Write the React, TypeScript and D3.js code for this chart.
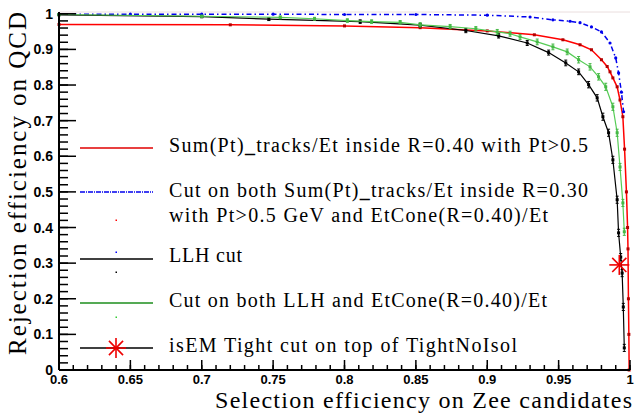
import React from 'react';
import * as d3 from 'd3';

// Sum(Pt)_tracks/Et inside R=0.40
const redX = [0.6, 0.72, 0.8, 0.853, 0.9, 0.933, 0.953, 0.965, 0.973, 0.98, 0.984, 0.986, 0.988, 0.991, 0.993, 0.995, 0.9962, 0.9975, 0.9983, 0.9986, 0.9989, 0.9992, 0.9994];
const redY = [0.97, 0.969, 0.966, 0.961, 0.952, 0.941, 0.927, 0.913, 0.899, 0.871, 0.852, 0.837, 0.82, 0.795, 0.758, 0.711, 0.62, 0.5, 0.4, 0.34, 0.2, 0.1, 0.0];

// Sum(Pt) R=0.30 + EtCone
const blueX = [0.6, 0.65, 0.7, 0.75, 0.8, 0.85, 0.9, 0.93, 0.946, 0.958, 0.965, 0.973, 0.98, 0.986, 0.99, 0.992, 0.994, 0.9955];
const blueY = [0.999, 0.999, 0.999, 0.999, 0.998, 0.998, 0.996, 0.991, 0.983, 0.979, 0.975, 0.963, 0.949, 0.918, 0.876, 0.834, 0.78, 0.725];

// LLH + EtCone
const greenX = [0.6, 0.7, 0.755, 0.779, 0.802, 0.819, 0.839, 0.853, 0.874, 0.892, 0.907, 0.916, 0.923, 0.935, 0.946, 0.956, 0.964, 0.972, 0.978, 0.983, 0.988, 0.991, 0.993, 0.995, 0.996];
const greenY = [0.998, 0.993, 0.99, 0.986, 0.981, 0.978, 0.976, 0.969, 0.964, 0.958, 0.949, 0.944, 0.935, 0.921, 0.907, 0.893, 0.871, 0.851, 0.823, 0.795, 0.739, 0.666, 0.57, 0.469, 0.388];
const greenErr = [0.002, 0.003, 0.004, 0.004, 0.005, 0.005, 0.005, 0.006, 0.006, 0.006, 0.007, 0.007, 0.007, 0.008, 0.008, 0.008, 0.009, 0.009, 0.009, 0.01, 0.01, 0.01, 0.01, 0.01, 0.01];

// LLH cut
const blackX = [0.6, 0.7, 0.747, 0.811, 0.853, 0.885, 0.908, 0.928, 0.943, 0.955, 0.964, 0.971, 0.977, 0.981, 0.985, 0.988, 0.991, 0.992, 0.9935, 0.9945, 0.9953, 0.996];
const blackY = [0.997, 0.992, 0.985, 0.978, 0.968, 0.953, 0.938, 0.918, 0.891, 0.862, 0.837, 0.801, 0.764, 0.711, 0.666, 0.59, 0.478, 0.385, 0.317, 0.272, 0.177, 0.062];
const blackErr = [0.002, 0.003, 0.004, 0.005, 0.005, 0.006, 0.006, 0.007, 0.007, 0.008, 0.008, 0.009, 0.009, 0.01, 0.01, 0.01, 0.01, 0.01, 0.01, 0.01, 0.01, 0.01];

// isEM Tight on top of TightNoIsol
const isemX = [0.9925];
const isemY = [0.295];

const xTicks = [0.6, 0.65, 0.7, 0.75, 0.8, 0.85, 0.9, 0.95, 1];
const xTickLabels = ['0.6', '0.65', '0.7', '0.75', '0.8', '0.85', '0.9', '0.95', '1'];
const yTicks = [0, 0.1, 0.2, 0.3, 0.4, 0.5, 0.6, 0.7, 0.8, 0.9, 1];
const yTickLabels = ['0', '0.1', '0.2', '0.3', '0.4', '0.5', '0.6', '0.7', '0.8', '0.9', '1'];

const serif = "'Liberation Serif', 'DejaVu Serif', serif";
const sans = "'Liberation Sans', Arial, sans-serif";

function App() {
    const x = d3.scaleLinear().domain([0.6, 1]).range([59, 630]);
    const y = d3.scaleLinear().domain([0, 1.005]).range([370, 12]);

    const line = d3.line<[number, number]>()
        .x(d => x(d[0]))
        .y(d => y(d[1]));

    const zip = (a: number[], b: number[]) => a.map((v, i) => [v, b[i]] as [number, number]);

    const xMinor = d3.range(0.6, 1.0001, 0.01);
    const yMinor = d3.range(0, 1.0001, 0.02);

    const star = (cx: number, cy: number, r: number, color: string) => (
        <g stroke={color} strokeWidth={1.6}>
            {[0, 45, 90, 135].map(a => {
                const rad = a * Math.PI / 180;
                return <line key={a} x1={cx - r * Math.cos(rad)} y1={cy - r * Math.sin(rad)} x2={cx + r * Math.cos(rad)} y2={cy + r * Math.sin(rad)} />;
            })}
        </g>
    );

    const errSeries = (xs: number[], ys: number[], es: number[], color: string, mark: string) => (
        <g>
            {xs.map((v, i) => (
                <g key={i} stroke={color} strokeWidth={1}>
                    <line x1={x(v)} x2={x(v)} y1={y(ys[i] + es[i])} y2={y(ys[i] - es[i])} />
                    <line x1={x(v) - 1.5} x2={x(v) + 1.5} y1={y(ys[i] + es[i])} y2={y(ys[i] + es[i])} />
                    <line x1={x(v) - 1.5} x2={x(v) + 1.5} y1={y(ys[i] - es[i])} y2={y(ys[i] - es[i])} />
                    <rect x={x(v) - 1.5} y={y(ys[i]) - 1.5} width={3} height={3} fill={mark} stroke="none" />
                </g>
            ))}
        </g>
    );

    const legendX1 = 80, legendX2 = 153, textX = 169;

    return (
        <div style={{ position: 'fixed', left: 0, top: 0 }}>
            <svg width={635} height={415} style={{ display: 'block', background: '#fff' }}>
                {/* frame top */}
                <line x1={59} x2={630} y1={12} y2={12} stroke="#eadede" strokeWidth={1} />

                {/* curves */}
                <path d={line(zip(redX, redY)) || ''} fill="none" stroke="#ff0000" strokeWidth={1.5} />
                {redX.map((v, i) => (
                    <rect key={'r' + i} x={x(v) - 1.5} y={y(redY[i]) - 1.5} width={3} height={3} fill="#b40000" />
                ))}

                <path d={line(zip(blueX, blueY)) || ''} fill="none" stroke="#0000ee" strokeWidth={1.5} strokeDasharray="5 3 1.5 3" />
                {blueX.map((v, i) => (
                    <circle key={'b' + i} cx={x(v)} cy={y(blueY[i])} r={1.6} fill="#0000ee" />
                ))}

                <path d={line(zip(blackX, blackY)) || ''} fill="none" stroke="#000" strokeWidth={1.2} />
                {errSeries(blackX, blackY, blackErr, '#000', '#000')}

                <path d={line(zip(greenX, greenY)) || ''} fill="none" stroke="#55cc55" strokeWidth={1.2} />
                {errSeries(greenX, greenY, greenErr, '#44b844', '#44b844')}

                {isemX.map((v, i) => <g key={'s' + i}>{star(x(v), y(isemY[i]), 10, '#ee0000')}</g>)}

                {/* y axis */}
                <line x1={59} x2={59} y1={12} y2={370} stroke="#000" strokeWidth={2} />
                {yMinor.map((t, i) => (
                    <line key={'ym' + i} x1={59} x2={68} y1={y(t)} y2={y(t)} stroke="#000" strokeWidth={1.5} />
                ))}
                {yTicks.map((t, i) => (
                    <g key={'yt' + i}>
                        <line x1={59} x2={76} y1={y(t)} y2={y(t)} stroke="#000" strokeWidth={1.5} />
                        <text x={53} y={y(t)} dy="0.36em" textAnchor="end" fontFamily={sans} fontWeight="bold" fontSize={14}>{yTickLabels[i]}</text>
                    </g>
                ))}

                {/* x axis */}
                <line x1={59} x2={630} y1={370} y2={370} stroke="#000" strokeWidth={2} />
                {xMinor.map((t, i) => (
                    <line key={'xm' + i} x1={x(t)} x2={x(t)} y1={370} y2={365} stroke="#000" strokeWidth={1.5} />
                ))}
                {xTicks.map((t, i) => (
                    <g key={'xt' + i}>
                        <line x1={x(t)} x2={x(t)} y1={370} y2={360} stroke="#000" strokeWidth={1.5} />
                        <text x={x(t)} y={383.5} textAnchor="middle" fontFamily={sans} fontWeight="bold" fontSize={13}>{xTickLabels[i]}</text>
                    </g>
                ))}

                {/* titles */}
                <text x={632} y={408} textAnchor="end" fontFamily={serif} fontSize={24} textLength={417}>Selection efficiency on Zee candidates</text>
                <text transform="translate(26,355) rotate(-90)" fontFamily={serif} fontSize={25} textLength={343}>Rejection efficiency on QCD</text>

                {/* legend */}
                <g fontFamily={serif} fontSize={20} fill="#000">
                    <line x1={legendX1} x2={legendX2} y1={148} y2={148} stroke="#e00000" strokeWidth={1.5} />
                    <text x={textX} y={152} textLength={419}>Sum(Pt)<tspan fontWeight="bold">_</tspan>tracks/Et inside R=0.40 with Pt&gt;0.5</text>

                    <line x1={legendX1} x2={legendX2} y1={192} y2={192} stroke="#0000ee" strokeWidth={1.5} strokeDasharray="5 1 1 1" />
                    <text x={textX} y={197} textLength={419}>Cut on both Sum(Pt)<tspan fontWeight="bold">_</tspan>tracks/Et inside R=0.30</text>
                    <text x={textX} y={222} textLength={379}>with Pt&gt;0.5 GeV and EtCone(R=0.40)/Et</text>
                    <rect x={115.5} y={219.5} width={1.5} height={1.5} fill="#ff0000" />

                    <line x1={legendX1} x2={legendX2} y1={259} y2={259} stroke="#000" strokeWidth={1.5} />
                    <text x={textX} y={262} textLength={73}>LLH cut</text>
                    <rect x={115.5} y={251.5} width={1.5} height={1.5} fill="#0000ff" />
                    <rect x={115.5} y={271.5} width={1.5} height={1.5} fill="#000" />

                    <line x1={legendX1} x2={legendX2} y1={303} y2={303} stroke="#55aa55" strokeWidth={2} />
                    <text x={textX} y={307} textLength={378}>Cut on both LLH and EtCone(R=0.40)/Et</text>
                    <rect x={115.5} y={316.5} width={1.5} height={1.5} fill="#33cc33" />

                    <line x1={legendX1} x2={legendX2} y1={348} y2={348} stroke="#000" strokeWidth={1.5} />
                    {star(116, 348, 10, '#ee0000')}
                    <text x={textX} y={352} textLength={348}>isEM Tight cut on top of TightNoIsol</text>
                </g>
            </svg>
        </div>
    );
}

export default App;
